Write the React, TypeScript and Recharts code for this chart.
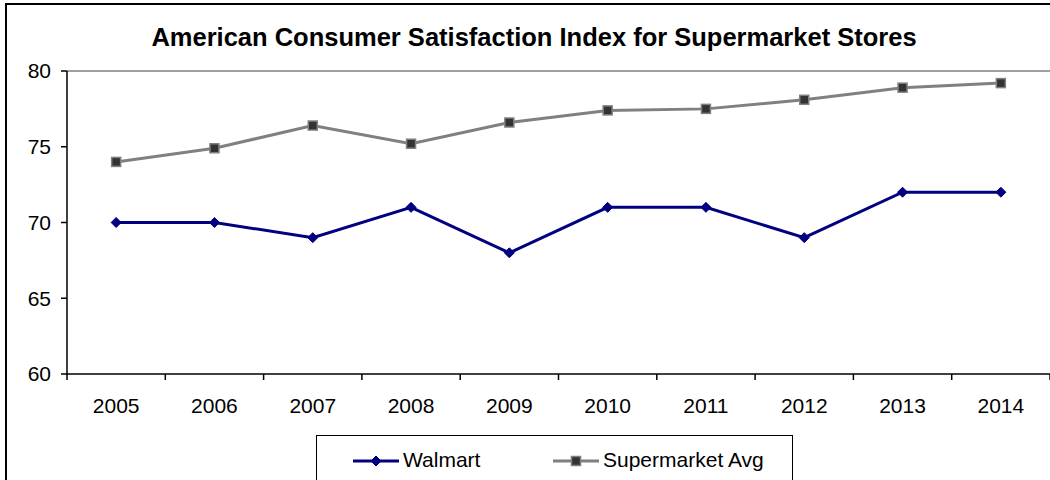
import { Legend, Line, LineChart, ReferenceLine, XAxis, YAxis } from "recharts";

const years = [2005, 2006, 2007, 2008, 2009, 2010, 2011, 2012, 2013, 2014];
const walmart = [70, 70, 69, 71, 68, 71, 71, 69, 72, 72];
const supermarketAvg = [74, 74.9, 76.4, 75.2, 76.6, 77.4, 77.5, 78.1, 78.9, 79.2];
const yTicks = [60, 65, 70, 75, 80];
const boundaryTicks = [2004.5, 2005.5, 2006.5, 2007.5, 2008.5, 2009.5, 2010.5, 2011.5, 2012.5, 2013.5, 2014.5];

const data = years.map((year, i) => ({
  year,
  walmart: walmart[i],
  avg: supermarketAvg[i]
}));

const FONT = '"Liberation Sans", Arial, sans-serif';
const NAVY = "#000080";
const GRAY = "#808080";

function Diamond({ cx, cy }: { cx?: number; cy?: number }) {
  if (cx == null || cy == null) return null;
  return <path d={`M${cx},${cy - 5}L${cx + 5},${cy}L${cx},${cy + 5}L${cx - 5},${cy}Z`} fill={NAVY} stroke={NAVY} strokeWidth={1} />;
}

function Square({ cx, cy }: { cx?: number; cy?: number }) {
  if (cx == null || cy == null) return null;
  return <rect x={cx - 4.5} y={cy - 4.5} width={9} height={9} fill="#333333" stroke={GRAY} strokeWidth={1.5} />;
}

function LegendBox() {
  return (
    <div
      style={{
        position: "relative",
        width: 477,
        height: 60,
        border: "1.5px solid #000",
        boxSizing: "border-box",
        background: "#fff",
        fontFamily: FONT,
        fontSize: 21,
        color: "#000"
      }}
    >
      <svg width={46} height={14} style={{ position: "absolute", left: 36, top: 18 }}>
        <line x1={0} y1={7} x2={46} y2={7} stroke={NAVY} strokeWidth={3} />
        <Diamond cx={23} cy={7} />
      </svg>
      <span style={{ position: "absolute", left: 86, top: 12, lineHeight: "24px" }}>Walmart</span>
      <svg width={46} height={14} style={{ position: "absolute", left: 236, top: 18 }}>
        <line x1={0} y1={7} x2={46} y2={7} stroke={GRAY} strokeWidth={3} />
        <Square cx={23} cy={7} />
      </svg>
      <span style={{ position: "absolute", left: 286, top: 12, lineHeight: "24px" }}>Supermarket Avg</span>
    </div>
  );
}

export default function App() {
  return (
    <div style={{ position: "fixed", left: 0, top: 0, width: 1050, height: 480, overflow: "hidden", background: "#fff" }}>
      <div style={{ position: "absolute", left: 5, top: 3, width: 1100, height: 520, border: "2px solid #000" }} />
      <div style={{ position: "absolute", left: 0, top: 0 }}>
        <LineChart
          width={1050}
          height={480}
          data={data}
          margin={{ top: 71, right: 0, bottom: 65, left: 7 }}
          style={{ fontFamily: FONT }}
        >
          <text x={534} y={39} textAnchor="middle" dominantBaseline="middle" fontSize={25.5} fontWeight="bold" fill="#000">
            American Consumer Satisfaction Index for Supermarket Stores
          </text>
          <XAxis
            xAxisId="bounds"
            type="number"
            dataKey="year"
            domain={[2004.5, 2014.5]}
            ticks={boundaryTicks}
            tickFormatter={() => ""}
            height={1}
            tickSize={6}
            stroke="#000"
            strokeWidth={1.5}
            allowDataOverflow
          />
          <XAxis
            xAxisId="labels"
            type="number"
            dataKey="year"
            domain={[2004.5, 2014.5]}
            ticks={years}
            axisLine={false}
            tickLine={false}
            tickSize={6}
            tickMargin={17}
            height={40}
            tick={{ fill: "#000", fontSize: 21 }}
            allowDataOverflow
          />
          <YAxis
            domain={[60, 80]}
            ticks={yTicks}
            width={60}
            tickSize={6}
            tickMargin={10}
            stroke="#000"
            strokeWidth={1.5}
            tick={{ fill: "#000", fontSize: 21 }}
          />
          <ReferenceLine xAxisId="labels" y={80} stroke={GRAY} strokeWidth={1.5} />
          <Legend
            layout="vertical"
            align="center"
            verticalAlign="middle"
            wrapperStyle={{ left: 316, top: 435, width: 477, height: 60 }}
            content={() => <LegendBox />}
          />
          <Line
            xAxisId="labels"
            type="linear"
            dataKey="avg"
            name="Supermarket Avg"
            stroke={GRAY}
            strokeWidth={3}
            dot={<Square />}
            activeDot={false}
            isAnimationActive={false}
          />
          <Line
            xAxisId="labels"
            type="linear"
            dataKey="walmart"
            name="Walmart"
            stroke={NAVY}
            strokeWidth={3}
            dot={<Diamond />}
            activeDot={false}
            isAnimationActive={false}
          />
        </LineChart>
      </div>
    </div>
  );
}
